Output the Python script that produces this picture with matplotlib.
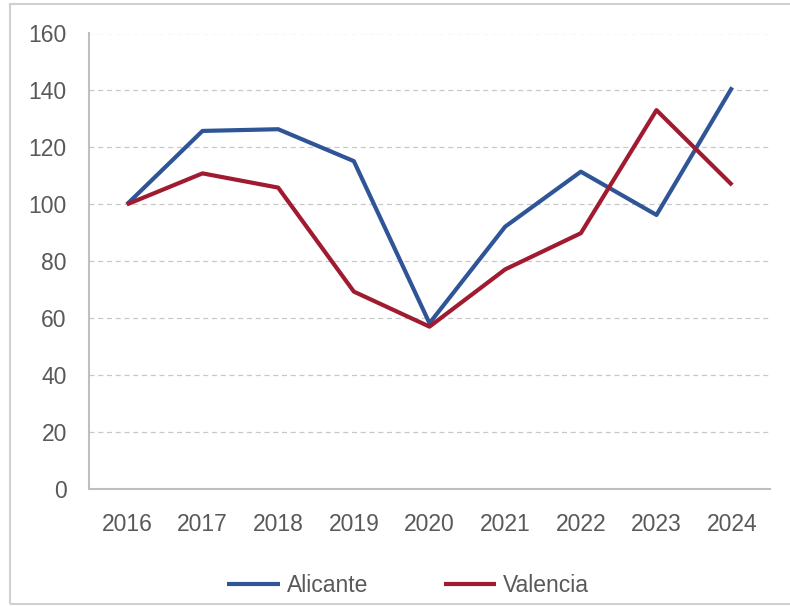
import matplotlib.pyplot as plt
from matplotlib.patches import Rectangle

years = ["2016", "2017", "2018", "2019", "2020", "2021", "2022", "2023", "2024"]
alicante = [100, 125.8, 126.4, 115.2, 58.3, 92.2, 111.5, 96.3, 141.1]
valencia = [100, 110.9, 105.9, 69.4, 57.1, 77.2, 89.9, 133.1, 106.8]
y_ticks = [0, 20, 40, 60, 80, 100, 120, 140, 160]

plt.rcParams["font.family"] = ["Liberation Sans", "DejaVu Sans"]
text_color = "#595959"

fig = plt.figure(figsize=(7.9, 6.06), dpi=100)
ax = fig.add_axes([89 / 790, 1 - 489.3 / 606, (770 - 89) / 790, (489.3 - 33.5) / 606])

x = range(len(years))
ax.plot(x, alicante, color="#2F5597", lw=3, label="Alicante", solid_capstyle="butt")
ax.plot(x, valencia, color="#A01A30", lw=3, label="Valencia", solid_capstyle="butt")

ax.set_xlim(-0.5, len(years) - 0.5)
ax.set_ylim(0, 160)
ax.set_yticks(y_ticks)
ax.set_xticks(list(x))
ax.set_xticklabels(years)
ax.tick_params(axis="both", length=0, labelsize=16.5, labelcolor=text_color)
ax.tick_params(axis="y", pad=16)
ax.tick_params(axis="x", pad=17)

ax.grid(axis="y", color="#c8c8c8", linestyle=(0, (4, 3)), lw=0.9)
ax.set_axisbelow(True)
for s in ["top", "right"]:
    ax.spines[s].set_visible(False)
for s in ["left", "bottom"]:
    ax.spines[s].set_color("#bfbfbf")
    ax.spines[s].set_linewidth(1.5)

fig.legend(loc="center", bbox_to_anchor=(408 / 790, 1 - 586 / 606), ncol=2,
           frameon=False, fontsize=16.5, labelcolor=text_color, handlelength=2.3,
           handletextpad=0.3, columnspacing=3.3)

# outer frame of the chart
fig.patches.append(Rectangle((10 / 790, 2 / 606), 782 / 790, 600 / 606,
                             transform=fig.transFigure, fill=False,
                             edgecolor="#d0d0d0", lw=1.5))

fig.savefig("out.png", dpi=100)
